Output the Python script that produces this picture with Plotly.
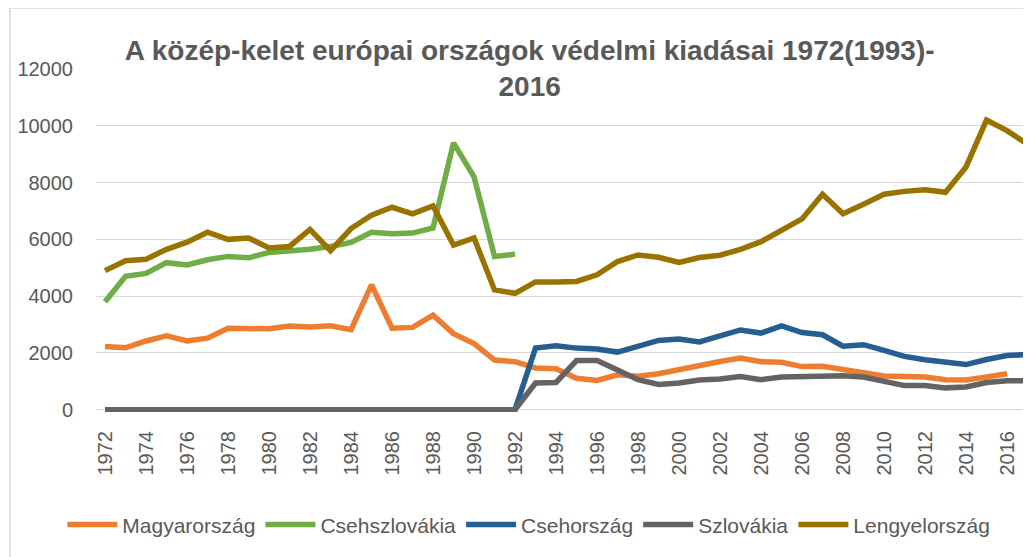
import plotly.graph_objects as go

years = list(range(1972, 2018))

magyar = [2230, 2180, 2420, 2600, 2420, 2520, 2870, 2850, 2850, 2950,
          2910, 2960, 2820, 4400, 2870, 2900, 3330, 2680, 2330, 1750,
          1690, 1470, 1440, 1110, 1030, 1230, 1180, 1270, 1420, 1560,
          1700, 1820, 1690, 1670, 1520, 1530, 1430, 1310, 1190, 1170,
          1150, 1060, 1050, 1150, 1270, None]

csehszlovak = [3800, 4700, 4800, 5180, 5100, 5280, 5400, 5350, 5540, 5580,
               5650, 5750, 5890, 6250, 6200, 6220, 6400, 9400, 8200, 5400,
               5480] + [None] * 25

cseh = [0] * 21 + [2170, 2250, 2170, 2140, 2030, 2230, 2440, 2490, 2390,
                   2600, 2810, 2700, 2950, 2720, 2640, 2240, 2290, 2090,
                   1880, 1760, 1680, 1590, 1770, 1910, 1940]

szlovak = [0] * 21 + [940, 960, 1730, 1730, 1400, 1060, 890, 940, 1050,
                      1080, 1170, 1060, 1150, 1170, 1180, 1200, 1150, 1000,
                      850, 850, 770, 800, 960, 1020, 1020]

lengyel = [4900, 5250, 5300, 5650, 5900, 6250, 6000, 6050, 5700, 5750,
           6350, 5600, 6380, 6850, 7130, 6900, 7180, 5800, 6050, 4220,
           4100, 4500, 4500, 4520, 4750, 5220, 5450, 5370, 5190, 5360,
           5440, 5650, 5920, 6330, 6720, 7590, 6900, 7240, 7590, 7690,
           7750, 7660, 8550, 10200, 9830, 9350]

series = [
    ("Magyarország", magyar, "#ED7D31"),
    ("Csehszlovákia", csehszlovak, "#70AD47"),
    ("Csehország", cseh, "#255E91"),
    ("Szlovákia", szlovak, "#636363"),
    ("Lengyelország", lengyel, "#997300"),
]

FONT = "Liberation Sans, Arial, sans-serif"
TEXT = "#595959"
GRID = "#d9d9d9"

fig = go.Figure()
for name, vals, color in series:
    fig.add_trace(go.Scatter(
        x=years, y=vals, name=name, mode="lines",
        line=dict(color=color, width=5.5),
        connectgaps=False,
    ))

# the page body adds an 8px margin, so the margins are 8px smaller
fig.update_layout(
    width=1031, height=557,
    paper_bgcolor="white", plot_bgcolor="white",
    margin=dict(l=88, r=0, t=61, b=153),
    font=dict(family=FONT, color=TEXT),
    title=dict(
        text="<b>A közép-kelet európai országok védelmi kiadásai 1972(1993)-<br>2016</b>",
        x=0.506, xref="container", xanchor="center",
        y=1 - 52 / 557, yref="container", yanchor="top",
        font=dict(size=28, color=TEXT, family=FONT),
    ),
    xaxis=dict(
        range=[1971.56, 2017.56],
        tick0=1972, dtick=2, tickangle=-90,
        showgrid=False, zeroline=False, showline=False,
        ticks="", ticklabelstandoff=14,
        tickfont=dict(size=20, color=TEXT),
    ),
    yaxis=dict(
        range=[-80, 12000],
        tick0=0, dtick=2000, tickformat="d",
        gridcolor=GRID, gridwidth=1,
        zeroline=True, zerolinecolor=GRID, zerolinewidth=1,
        showline=False, ticks="", ticklabelstandoff=22,
        tickfont=dict(size=20, color=TEXT),
    ),
    legend=dict(
        orientation="h", x=0.459, xanchor="center",
        y=-0.329, yanchor="middle",
        itemwidth=50,
        font=dict(size=21, color=TEXT),
    ),
    shapes=[
        dict(type="line", xref="paper", yref="paper",
             x0=-0.0912, x1=1.05, y0=1.178, y1=1.178,
             line=dict(color=GRID, width=1.5)),
        dict(type="line", xref="paper", yref="paper",
             x0=-0.0912, x1=-0.0912, y0=1.178, y1=-0.45,
             line=dict(color=GRID, width=1.5)),
    ],
)

fig.write_html("out.html")
